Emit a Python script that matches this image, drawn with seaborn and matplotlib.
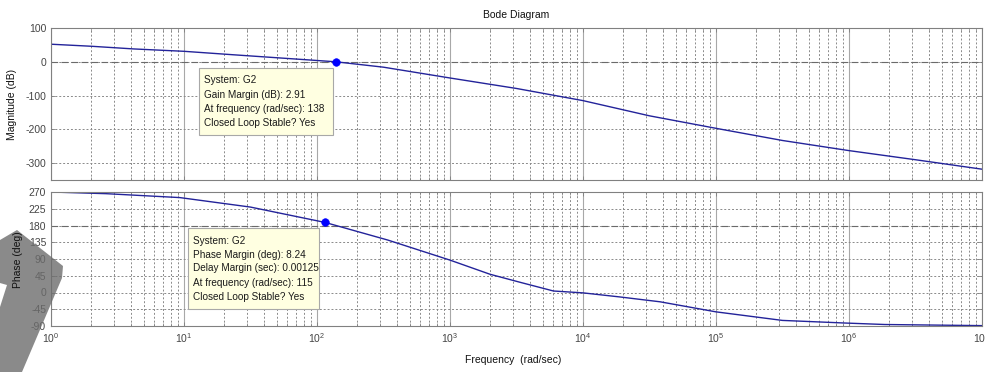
import numpy as np
import pandas as pd
import matplotlib
matplotlib.use("Agg")
import matplotlib.pyplot as plt
import seaborn as sns
from matplotlib.patches import Rectangle, Polygon
from matplotlib.ticker import FixedLocator, FixedFormatter, LogLocator, NullFormatter

# ---------------- data ----------------
freq_mag = [1, 2, 4.2, 10, 23, 83, 138, 316, 1000, 3160, 10000, 31600,
            100000, 316000, 1000000, 3160000, 10000000]
mag_db = [52, 46, 38, 31, 21, 6, 0, -16, -48, -79, -115, -160,
          -197, -233, -263, -290, -318]

freq_phase = [1, 2.6, 9.3, 31.6, 115, 340, 1000, 2000, 3400, 6000, 10000,
              19000, 38000, 100000, 316000, 930000, 1860000, 10000000]
phase_deg = [270, 265.5, 255, 229.5, 188.24, 141, 87, 49, 27, 4, -1,
             -12, -25, -52, -75, -82, -86, -89]

mag_ticks = [100, 0, -100, -200, -300]
phase_ticks = [270, 225, 180, 135, 90, 45, 0, -45, -90]
freq_ticks = [1e0, 1e1, 1e2, 1e3, 1e4, 1e5, 1e6, 1e7]
freq_tick_labels = [r"$10^{0}$", r"$10^{1}$", r"$10^{2}$", r"$10^{3}$",
                    r"$10^{4}$", r"$10^{5}$", r"$10^{6}$", r"$10^{7}$"]

gm_freq, gm_mag = [138], [0]
pm_freq, pm_phase = [115], [188.24]

gm_lines = ["System: G2", "Gain Margin (dB): 2.91",
            "At frequency (rad/sec): 138", "Closed Loop Stable? Yes"]
pm_lines = ["System: G2", "Phase Margin (deg): 8.24",
            "Delay Margin (sec): 0.00125", "At frequency (rad/sec): 115",
            "Closed Loop Stable? Yes"]

title = "Bode Diagram"
xlabel = "Frequency  (rad/sec)"
ylabel_mag = "Magnitude (dB)"
ylabel_phase = "Phase (deg)"

# ---------------- styling ----------------
sns.set_theme(style="white")
plt.rcParams['font.family'] = ['Liberation Sans', 'DejaVu Sans']
plt.rcParams['mathtext.fontset'] = 'custom'
plt.rcParams['mathtext.rm'] = 'Liberation Sans'
plt.rcParams['mathtext.it'] = 'Liberation Sans'

W, H = 985, 372
fig = plt.figure(figsize=(W / 100, H / 100), dpi=100)


def fy(y):
    return 1 - y / H


ax1 = fig.add_axes([51 / W, fy(180), 931 / W, 152 / H])
ax2 = fig.add_axes([51 / W, fy(326), 931 / W, 134 / H])

line_col = "#23239a"
grid_col = "#8a8a8a"
tick_col = "#454545"
FS = 7.5
BFS = 7.2

df_mag = pd.DataFrame({"freq": freq_mag, "mag": mag_db})
df_ph = pd.DataFrame({"freq": freq_phase, "phase": phase_deg})

sns.lineplot(data=df_mag, x="freq", y="mag", ax=ax1, color=line_col, lw=1.0)
sns.lineplot(data=df_ph, x="freq", y="phase", ax=ax2, color=line_col, lw=1.0)

for ax, ylim, yt in [(ax1, (-350, 100), mag_ticks), (ax2, (-90, 270), phase_ticks)]:
    ax.set_xscale("log")
    ax.set_xlim(1, 1e7)
    ax.set_ylim(*ylim)
    ax.yaxis.set_major_locator(FixedLocator(yt))
    ax.yaxis.set_major_formatter(FixedFormatter([str(v) for v in yt]))
    ax.xaxis.set_major_locator(FixedLocator(freq_ticks))
    ax.xaxis.set_minor_locator(LogLocator(base=10, subs=np.arange(2, 10), numticks=50))
    ax.xaxis.set_minor_formatter(NullFormatter())
    ax.grid(which="major", axis="y", ls=(0, (2, 2)), color=grid_col, lw=0.7)
    ax.grid(which="minor", axis="x", ls=(0, (2, 2)), color=grid_col, lw=0.7)
    ax.grid(which="major", axis="x", ls="-", color="#a8a8a8", lw=0.8)
    ax.tick_params(which="both", direction="in", top=True, right=True,
                   bottom=True, left=True, colors="#808080",
                   labelcolor=tick_col, labelsize=FS)
    ax.tick_params(which="major", length=3, width=0.6)
    ax.tick_params(which="minor", length=2, width=0.5)
    for s in ax.spines.values():
        s.set_color("#808080")
        s.set_linewidth(0.8)
    ax.set_xlabel("")
    ax.set_ylabel("")

ax1.xaxis.set_major_formatter(NullFormatter())
ax2.xaxis.set_major_formatter(FixedFormatter(freq_tick_labels))
ax2.tick_params(axis="x", pad=4)

# margin reference lines
ax1.axhline(0, ls=(0, (6, 3)), color="#6a6a6a", lw=0.8, zorder=1)
ax2.axhline(180, ls=(0, (6, 3)), color="#6a6a6a", lw=0.8, zorder=1)

# margin markers
sns.scatterplot(x=gm_freq, y=gm_mag, ax=ax1, color="#0000ff", s=30,
                edgecolor="#0000ff", zorder=5)
sns.scatterplot(x=pm_freq, y=pm_phase, ax=ax2, color="#0000ff", s=30,
                edgecolor="#0000ff", zorder=5)

# labels
fig.text(516 / W, fy(15), title, ha="center", va="center", fontsize=FS, color="#111111")
fig.text(513 / W, fy(360), xlabel, ha="center", va="center", fontsize=FS, color="#111111")
fig.text(12 / W, fy(104), ylabel_mag, ha="center", va="center", rotation=90,
         fontsize=FS, color="#111111")
fig.text(18 / W, fy(260), ylabel_phase, ha="center", va="center", rotation=90,
         fontsize=FS, color="#111111", zorder=20)


# data tip boxes
def tip(x0, y0, x1, y1, tx, ys, lines):
    fig.patches.append(Rectangle((x0 / W, fy(y1)), (x1 - x0) / W, (y1 - y0) / H,
                                 transform=fig.transFigure, facecolor="#ffffe1",
                                 edgecolor="#a8a8a8", lw=0.8, zorder=8))
    for y, t in zip(ys, lines):
        fig.text(tx / W, fy(y), t, ha="left", va="center", fontsize=BFS,
                 color="#1a1a1a", zorder=9)


tip(199, 68, 333, 135, 204, [80, 95, 109, 123], gm_lines)
tip(188, 228, 319, 309, 193, [241, 255, 268, 283, 297], pm_lines)

# grey pointer arrow overlay
arrow = [(0, 240), (17, 230), (63, 266), (62, 278), (22, 372), (0, 372),
         (0, 307), (7, 285), (0, 283)]
fig.patches.append(Polygon([(x / W, fy(y)) for x, y in arrow], closed=True,
                           transform=fig.transFigure, facecolor="#6d6d6d",
                           edgecolor="none", alpha=0.8, zorder=10))

fig.savefig("out.png", dpi=100)
